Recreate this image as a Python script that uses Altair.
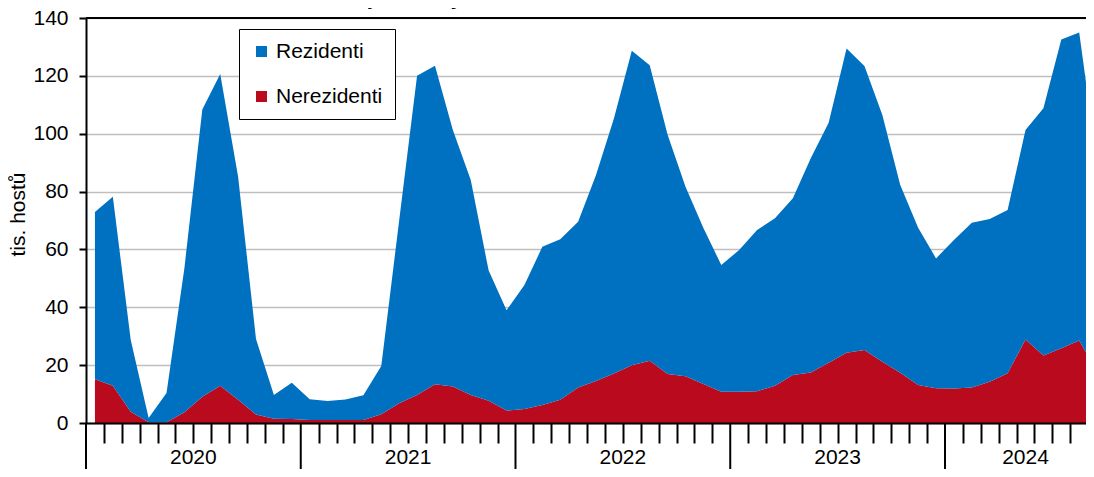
import altair as alt
import pandas as pd

# ---- data, monthly Jan 2020 .. Sep 2024 ----
years = ["2020", "2021", "2022", "2023", "2024"]
year_start = [0, 12, 24, 36, 48]
year_label_pos = [6, 18, 30, 42, 52.5]
month_ticks = [m for m in range(1, 56) if m % 12 != 0]

nerezidenti = [15.1, 12.9, 3.9, 0.3, 0.3, 3.7, 9.1, 12.9, 8.0, 2.9, 1.5, 1.4,
               1.0, 1.0, 1.0, 1.0, 3.0, 6.8, 9.7, 13.4, 12.6, 9.7, 7.7, 4.3,
               4.8, 6.2, 8.0, 12.3, 14.5, 17.1, 20.0, 21.5, 16.9, 16.2, 13.5, 10.8,
               10.8, 11.0, 12.9, 16.6, 17.5, 20.8, 24.3, 25.2, 21.2, 17.4, 13.1, 12.0,
               11.9, 12.3, 14.3, 17.2, 28.9, 23.3, 25.8, 28.5, 17.8]
rezidenti = [57.8, 65.3, 24.8, 1.4, 10.1, 49.9, 99.3, 107.7, 77.1, 26.1, 8.2, 12.5,
             7.2, 6.6, 7.1, 8.6, 16.7, 63.2, 110.3, 110.1, 88.7, 74.3, 45.0, 34.7,
             42.9, 54.7, 55.5, 57.3, 71.2, 88.2, 108.7, 102.2, 82.7, 65.5, 53.9, 43.8,
             49.0, 55.7, 57.9, 61.1, 74.0, 83.0, 105.2, 98.2, 85.3, 64.9, 54.4, 44.9,
             51.4, 56.9, 56.2, 56.4, 72.4, 85.5, 106.8, 106.5, 72.0]

series = ["Rezidenti", "Nerezidenti"]
colors = ["#0070C0", "#BA0A1E"]
title_text = "v jednotlivých měsících v letech 2020–2024"
y_title = "tis. hostů"
y_ticks = [0, 20, 40, 60, 80, 100, 120, 140]

rows = []
for i, (r, n) in enumerate(zip(rezidenti, nerezidenti)):
    rows.append({"m": i + 0.5, "serie": "Nerezidenti", "v": n, "ord": 0})
    rows.append({"m": i + 0.5, "serie": "Rezidenti", "v": r, "ord": 1})
df = pd.DataFrame(rows)

W, H = 1000, 405
FONT = "Liberation Sans"
xscale = alt.Scale(domain=[0, 55.88], nice=False, zero=False)
xaxis = alt.Axis(values=month_ticks, labels=False, grid=False, tickSize=20,
                 tickWidth=2, tickColor="black", domainColor="black",
                 domainWidth=2, title=None, zindex=1)

area = alt.Chart(df).mark_area(clip=True, interpolate="linear").encode(
    x=alt.X("m:Q", scale=xscale, axis=xaxis),
    y=alt.Y("v:Q", stack="zero", scale=alt.Scale(domain=[0, 140], nice=False),
            axis=alt.Axis(values=y_ticks, tickSize=7, tickWidth=2, tickColor="black",
                          domainColor="black", domainWidth=2, labelFontSize=21,
                          labelFont=FONT, labelColor="black", labelPadding=11,
                          gridColor="#BFBFBF", gridWidth=1.5, title=y_title,
                          titleFontSize=21, titleFont=FONT, titleFontWeight="normal",
                          titleColor="black", titlePadding=4, titleY=196)),
    color=alt.Color("serie:N", scale=alt.Scale(domain=series, range=colors),
                    legend=alt.Legend(title=None, orient="none", legendX=153, legendY=11,
                                      symbolType="square", symbolSize=121,
                                      symbolStrokeWidth=0, symbolOpacity=1,
                                      labelFontSize=21, labelFont=FONT,
                                      labelColor="black", fillColor="white",
                                      strokeColor="black", padding=12, rowPadding=23,
                                      labelOffset=4, symbolOffset=0)),
    order=alt.Order("ord:Q", sort="ascending"),
)

year_ticks = alt.Chart(pd.DataFrame({"m": year_start})).mark_rule(
    color="black", strokeWidth=2).encode(
    x=alt.X("m:Q", scale=xscale, axis=xaxis),
    y=alt.value(H), y2=alt.value(H + 46))

year_text = alt.Chart(pd.DataFrame({"m": year_label_pos, "t": years})).mark_text(
    fontSize=21, font=FONT, color="black", baseline="alphabetic", align="center").encode(
    x=alt.X("m:Q", scale=xscale, axis=xaxis),
    y=alt.value(H + 41), text="t:N")

top_line = alt.Chart(pd.DataFrame({"a": [0]})).mark_rule(
    color="black", strokeWidth=2).encode(
    x=alt.value(0), x2=alt.value(W), y=alt.value(0))

title = alt.Chart(pd.DataFrame({"t": [title_text]})).mark_text(
    fontSize=20, fontWeight="bold", font=FONT, color="black",
    baseline="alphabetic", align="center").encode(
    x=alt.value(471), y=alt.value(-13), text="t:N")

chart = alt.layer(area, year_ticks, year_text, top_line, title).properties(
    width=W, height=H,
    padding={"left": 78, "top": 10, "right": 0, "bottom": 46},
    autosize=alt.AutoSizeParams(type="none"),
).configure_view(stroke=None)

chart.save("out.html", embed_options={"renderer": "svg", "actions": False})
